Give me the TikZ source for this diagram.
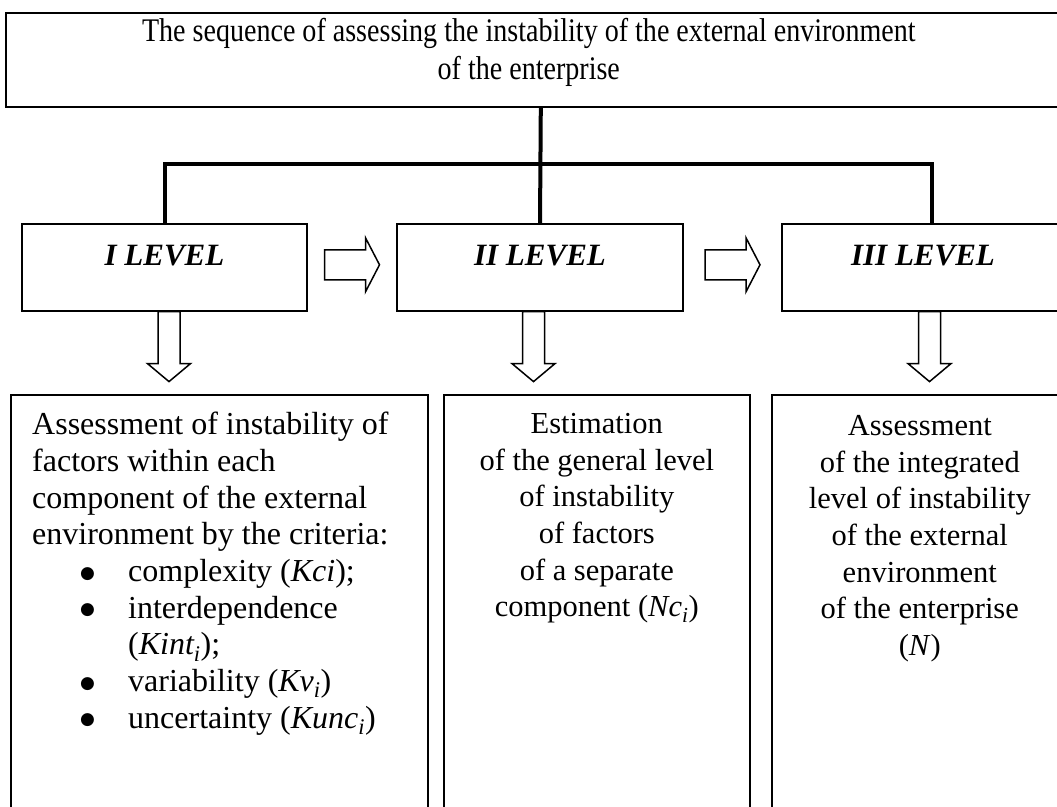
\documentclass[tikz,border=0pt]{standalone}
\usepackage{fontspec}
\setmainfont{Liberation Serif}
\newfontfamily\bulfont{DejaVu Sans}
\usetikzlibrary{positioning,calc}

\newcommand{\crit}[1]{\hspace*{48pt}\makebox[48pt][l]{\raisebox{3.5pt}{\bulfont\fontsize{17}{17}\selectfont ●}}#1}

\begin{document}
\begin{tikzpicture}[x=1pt, y=-1pt,
  font=\fontsize{30.5}{36.7}\selectfont,
  box/.style={draw, line width=1.6pt, inner sep=0pt},
  lvlbox/.style={box, anchor=north, minimum width=#1, text height=42pt, text depth=45pt,
    font=\fontsize{31}{36}\selectfont\bfseries\itshape},
  estbox/.style={box, anchor=north west, minimum width=#1, minimum height=450pt},
  conn/.style={line width=4pt},
  arrline/.style={line width=1.5pt, line join=miter},
  rarrow/.pic={\draw[arrline] (-27.5,-15) -- (13.5,-15) -- (13.5,-27) -- (27.5,0)
    -- (13.5,27) -- (13.5,15) -- (-27.5,15) -- cycle;},
  darrow/.pic={\draw[arrline] (-11,0) -- (-11,52) -- (-21.5,52) -- (0,70)
    -- (21.5,52) -- (11,52) -- (11,0) -- cycle;}]
\useasboundingbox (0,0) rectangle (1057,806);
\clip (0,0) rectangle (1057,806);

%% heading
\node[box, anchor=north west, minimum width=1070pt, minimum height=94pt] (seq) at (5,12) {};
\node[inner sep=0pt, align=center, font=\fontsize{33}{38}\selectfont\addfontfeatures{FakeStretch=0.85}]
  (seqtxt) at ([xshift=-12pt, yshift=7pt]seq.center)
  {The sequence of assessing the instability of the external environment\\of the enterprise};

%% levels
\node[lvlbox=285pt] (lev1) at (164.5,223) {I LEVEL};
\node[lvlbox=286pt] (lev2) at (540,223) {II LEVEL};
\node[lvlbox=282pt] (lev3) at (923,223) {III LEVEL};

\coordinate (bar) at (540,164);
\draw[conn] (seq.south) -- (lev2.north);
\draw[conn] (lev1.north) |- ([xshift=9pt]lev3.north |- bar) -- ([xshift=9pt]lev3.north);

\pic at ($(lev1.east)!0.5!(lev2.west)+(0,-2.5)$) {rarrow};
\pic at ($(lev2.east)!0.5!(lev3.west)+(0,-2.5)$) {rarrow};

\pic at ([xshift=4.5pt]lev1.south) {darrow};
\pic at ([xshift=-6.5pt]lev2.south) {darrow};
\pic at ([xshift=6.5pt]lev3.south) {darrow};

%% estimates
\node[estbox=417pt] (est1) at (10,394) {};
\node[estbox=306pt] (est2) at (443,394) {};
\node[estbox=296pt] (est3) at (771,394) {};

\node[inner sep=0pt, anchor=north west, align=left, font=\fontsize{32}{36.7}\selectfont,
  below right=18pt and 22pt of est1.north west] (txt1)
  {Assessment of instability of\\
   factors within each\\
   component of the external\\
   environment by the criteria:\\
   \crit{complexity (\textit{Kci});}\\
   \crit{interdependence}\\
   \hspace*{96pt}(\textit{Kint\textsubscript{i}});\\
   \crit{variability (\textit{Kv\textsubscript{i}})}\\
   \crit{uncertainty (\textit{Kunc\textsubscript{i}})}};
\node[inner sep=0pt, align=center, below=19pt of est2.north] (txt2)
  {Estimation\\of the general level\\of instability\\of factors\\of a separate\\
   component (\textit{Nc\textsubscript{i}})};
\node[inner sep=0pt, align=center, below=21pt of est3.north] (txt3)
  {Assessment\\of the integrated\\level of instability\\of the external\\environment\\
   of the enterprise\\(\textit{N})};
\end{tikzpicture}
\end{document}
